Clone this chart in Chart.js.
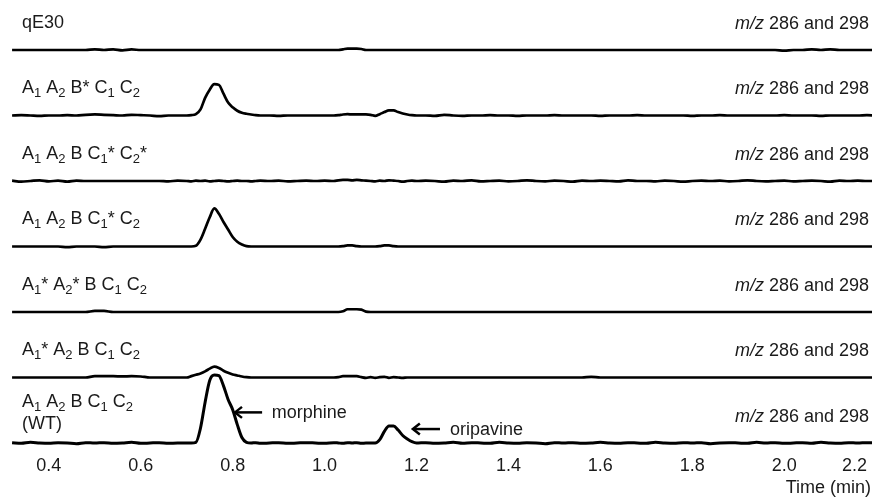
<!DOCTYPE html>
<html>
<head>
<meta charset="utf-8">
<script src="https://cdn.jsdelivr.net/npm/chart.js@4.4.1/dist/chart.umd.min.js"></script>
<style>
  html, body { margin: 0; padding: 0; background: #ffffff; }
  #wrap { width: 872px; height: 504px; position: relative; }
</style>
</head>
<body>
<div id="wrap"><canvas id="c" width="872" height="504"></canvas></div>
<script>
// ---- data ----
const times = [
  0.32,0.34,0.36,0.38,0.40,0.42,0.44,0.46,0.48,0.50,0.52,0.54,0.56,0.58,0.60,0.62,0.64,0.66,0.68,
  0.70,0.71,0.72,0.73,0.74,0.75,0.76,0.77,0.78,0.79,0.80,0.81,0.82,0.83,0.84,0.85,0.86,
  0.88,0.90,0.92,0.94,0.96,0.98,1.00,
  1.02,1.03,1.04,1.05,1.06,1.07,1.08,1.09,1.10,1.11,1.12,1.13,1.14,1.15,1.16,1.17,1.18,1.19,1.20,
  1.22,1.24,1.26,1.28,1.30,1.32,1.34,1.36,1.38,1.40,
  1.42,1.44,1.46,1.48,1.50,1.52,1.54,1.56,1.58,1.60,
  1.62,1.64,1.66,1.68,1.70,1.72,1.74,1.76,1.78,1.80,
  1.82,1.84,1.86,1.88,1.90,1.92,1.94,1.96,1.98,2.00,
  2.02,2.04,2.06,2.08,2.10,2.12,2.14,2.16,2.18,2.20
];

// relative intensity (WT morphine peak = 100)
const qE30 = [
  0,0,0,0,0,0,0,0,0,1,0,1,-0.5,0.8,0,0,0,0,0,
  0,0,0,0,0,0,0,0,0,0,0,0,0,0,0,0,0,
  0,0,0,0,0,0,0,
  0,0,1,2,2,2,1.5,0,0,0,0,0,0,0,0,0,0,0,0,
  0,0,0,0,0,0,0,0,0,0,
  0,0,0,0,0,0,0,0,0,0,
  0,0,0,0,0,0,0,0,0,0,
  0,0,0,0,0,0,0,0,0,-1,
  0,0,1,0,1,0,0,0,0,0
];
const mutBstar = [
  0,0.5,0,-0.5,0,0,0.5,0,1,1.5,1,0.5,0,1,0.5,0,-1,0,0,
  0,0.5,2,9,26,38,46,45,32,19,12,7,4,2.5,1.5,0.5,0,
  0,-0.5,0,0,0,0,0,
  0,0.5,1.5,2,1.5,1.5,1.5,1.5,1,-0.5,2,5,7.5,7.5,5,3,1.5,0.5,0,
  0,-0.5,1,0,-0.5,0,0,0.5,0,0,
  -0.5,0,0,0,0.5,0,0,0,0,-0.5,
  0,0,0,0.5,0,0,0,0,0,-0.5,
  0,0,0.5,0,0,0,0,0,0,0.5,
  0,0,0,-0.5,0,0,0,0,0.5,0
];
const mutC1C2 = [
  0.5,-1,0,1,-0.5,0.5,-1,0.5,0,0,0,0,0,0,0,0,0,-0.5,0.5,
  0,-0.5,0.5,0,0.5,-0.5,0,0.5,0,-0.5,0,0.5,0,0,-0.5,0,0.5,
  0,0.5,-0.5,0,0.5,0,0.5,
  0,1,1.5,1.5,1,1.5,1,0.5,0,-0.5,0.5,0,1,0.5,0,-1,0,0.5,0,
  0.5,0,-1,0.5,0,1,-0.5,0,0.5,-0.5,
  0,1,0,-0.5,0.5,0,-1,0.5,0,0.5,
  0,-0.5,1,0,0,-0.5,0.5,0,-1,0,
  0.5,0,0.5,-0.5,0,1,0,-0.5,0,0.5,
  -0.5,0,0.5,0,-1,0.5,0,0.5,0,0
];
const mutC1 = [
  0,0,0,0,0,0,-1,0,0,0,-1,0,0,0,0,0,0,0,0,
  0,0,1,10,26,43,56,48,36,25,14,7,3,0.5,0,0,0,
  0,0,0,0,0,0,0,
  0,0,0.5,1.5,1.5,0.5,0,0,0,0,0.5,1.5,1.5,0.5,0,0,0,0,0,
  0,0,0,0,0,0,0,0,0,0,
  0,0,0,0,0,0,0,0,0,0,
  0,0,0,0,0,0,0,0,0,0,
  0,0,0,0,0,0,0,0,0,0,
  0,0,0,0,0,0,0,0,0,0
];
const mutA1A2 = [
  0,0,0,0,0,0,0,0,0,1.5,1.5,0,0,0,0,0,0,0,0,
  0,0,0,0,0,0,0,0,0,0,0,0,0,0,0,0,0,
  0,0,0,0,0,0,0,
  0,0,1,4,4,4,3.5,0.5,0,0,0,0,0,0,0,0,0,0,0,
  0,0,0,0,0,0,0,0,0,0,
  0,0,0,0,0,0,0,0,0,0,
  0,0,0,0,0,0,0,0,0,0,
  0,0,0,0,0,0,0,0,0,0,
  0,0,0,0,0,0,0,0,0,0
];
const mutA1 = [
  0,0,0,0,0,0,0,0,0,2,2,2,1.5,2,1.5,0,0,0,0,
  0,2,4,6,9,13,16,14,10,7,4.5,3,1.5,0.5,0,0,0,
  0,0,0,0,0,0,0,
  0,0.5,2,2,2,2,0.5,-0.5,0.5,-0.5,0.5,1,-0.5,0.5,0,-0.5,0,0,0,
  0,0,0,0,0,0,0,0,0,0,
  0,0,0,0,0,0,0,0,1,0,
  0,0,0,0,0,0,0,0,0,0,
  0,0,0,0,0,0,0,0,0,0,
  0,0,0,0,0,0,0,0,0,0
];
const wildType = [
  0.5,-0.5,1,0,-0.5,0.5,0,-1,0.5,0,0.5,-0.5,0,1,-0.5,0,0.5,-0.5,0,
  0,0,1,22,60,92,100,99,84,64,49,27,8,1,0,0.5,-0.5,
  0,0.5,-0.5,0,0.5,0,-0.5,
  0.5,0,-0.5,0.5,0,0.5,-0.5,0,0,0,5,17,25,25,19,11,6,2,0,
  0.5,-0.5,0,1,-0.5,0.5,0,-0.5,1,0,
  -0.5,0.5,0,-1,0.5,0,0.5,-0.5,0,1,
  0,-0.5,0.5,0,-0.5,1,0,-0.5,0.5,0,
  0.5,-1,0,0.5,0,-0.5,1,0,0.5,-0.5,
  0,0.5,-0.5,1,0,-0.5,0.5,0,0.5,0
];

const traces = [qE30, mutBstar, mutC1C2, mutC1, mutA1A2, mutA1, wildType];
const rowLabels = [
  'qE30',
  'A_1 A_2 B* C_1 C_2',
  'A_1 A_2 B C_1* C_2*',
  'A_1 A_2 B C_1* C_2',
  'A_1* A_2* B C_1 C_2',
  'A_1* A_2 B C_1 C_2',
  'A_1 A_2 B C_1 C_2\n(WT)'
];
const rightLabel = '~m/z~ 286 and 298';
const xTicks = [0.4, 0.6, 0.8, 1.0, 1.2, 1.4, 1.6, 1.8, 2.0, 2.2];
const xTitle = 'Time (min)';
const peakNotes = [
  { text: 'morphine', tip: 0.805, tail: 0.864, level: 45, textAt: 0.885 },
  { text: 'oripavine', tip: 1.192, tail: 1.251, level: 20.5, textAt: 1.273 }
];

// ---- styling / layout ----
const FAMILY = '"Liberation Sans", Arial, Helvetica, sans-serif';
const FONT = '18px ' + FAMILY;
const FONT_SUB = '13px ' + FAMILY;
const FONT_IT = 'italic 18px ' + FAMILY;
const TEXT_COLOR = '#1a1a1a';
const Y_MIN = -22.8, Y_MAX = 73.5;

traces.forEach((t, i) => { if (t.length !== times.length) console.warn('trace', i, t.length, times.length); });

function richRuns(ctx, str) {
  const parts = str.split(/(_\d|~[^~]+~)/).filter(s => s.length);
  return parts.map(p => {
    let run;
    if (p[0] === '_') run = { t: p.slice(1), font: FONT_SUB, dy: 4 };
    else if (p[0] === '~') run = { t: p.slice(1, -1), font: FONT_IT, dy: 0 };
    else run = { t: p, font: FONT, dy: 0 };
    ctx.font = run.font;
    run.w = ctx.measureText(run.t).width;
    return run;
  });
}
function drawRich(ctx, str, x, y, align) {
  const runs = richRuns(ctx, str);
  const total = runs.reduce((s, r) => s + r.w, 0);
  let cx = align === 'right' ? x - total : x;
  ctx.textAlign = 'left';
  ctx.textBaseline = 'alphabetic';
  runs.forEach(r => { ctx.font = r.font; ctx.fillText(r.t, cx, y + r.dy); cx += r.w; });
}

const textPlugin = {
  id: 'chromText',
  afterDraw(chart) {
    const ctx = chart.ctx;
    const xs = chart.scales.x;
    ctx.save();
    ctx.fillStyle = TEXT_COLOR;
    rowLabels.forEach((lab, i) => {
      const base = chart.scales['y' + i].getPixelForValue(0);
      const lines = lab.split('\n');
      lines.forEach((ln, j) => drawRich(ctx, ln, 22, base - 22 - (lines.length - 1) * 14 + j * 22, 'left'));
      drawRich(ctx, rightLabel, 869, base - 21, 'right');
    });
    // x tick labels
    ctx.font = FONT;
    ctx.textAlign = 'center';
    ctx.textBaseline = 'alphabetic';
    const tickY = chart.chartArea.bottom + 12.5;
    xTicks.forEach(v => {
      const s = v.toFixed(1);
      const w = ctx.measureText(s).width;
      const px = Math.min(xs.getPixelForValue(v), chart.width - 5 - w / 2);
      ctx.fillText(s, px, tickY);
    });
    ctx.textAlign = 'right';
    ctx.fillText(xTitle, chart.width - 1, tickY + 22);
    // peak annotations
    const yw = chart.scales['y' + (traces.length - 1)];
    ctx.strokeStyle = '#000';
    ctx.lineWidth = 2.5;
    ctx.lineCap = 'butt';
    peakNotes.forEach(n => {
      const tip = xs.getPixelForValue(n.tip), tail = xs.getPixelForValue(n.tail);
      const y = yw.getPixelForValue(n.level);
      ctx.beginPath();
      ctx.moveTo(tail, y); ctx.lineTo(tip + 1, y);
      ctx.stroke();
      ctx.beginPath();
      ctx.moveTo(tip + 7, y - 5.5); ctx.lineTo(tip, y); ctx.lineTo(tip + 7, y + 5.5);
      ctx.stroke();
      ctx.font = FONT;
      ctx.textAlign = 'left';
      ctx.fillText(n.text, xs.getPixelForValue(n.textAt), y + 5.5);
    });
    ctx.restore();
  }
};

const scales = {
  x: { type: 'linear', min: 0.322, max: 2.191, display: false }
};
traces.forEach((t, i) => {
  scales['y' + i] = {
    type: 'linear', position: 'right', stack: 'rows', stackWeight: 1,
    min: Y_MIN, max: Y_MAX, display: false
  };
});

const datasets = traces.map((vals, i) => ({
  label: rowLabels[i].replace(/_/g, '').replace('\n', ' '),
  data: times.map((t, k) => ({ x: t, y: vals[k] })),
  yAxisID: 'y' + i,
  borderColor: '#000',
  borderWidth: i === traces.length - 1 ? 3 : 2.7,
  pointRadius: 0,
  cubicInterpolationMode: 'monotone',
  clip: false,
  fill: false
}));

new Chart(document.getElementById('c'), {
  type: 'line',
  data: { datasets },
  options: {
    responsive: false,
    devicePixelRatio: 1,
    animation: false,
    parsing: true,
    layout: { padding: { left: 13, right: 0, top: 0, bottom: 45.5 } },
    scales,
    plugins: { legend: { display: false }, tooltip: { enabled: false } }
  },
  plugins: [textPlugin]
});
</script>
</body>
</html>
